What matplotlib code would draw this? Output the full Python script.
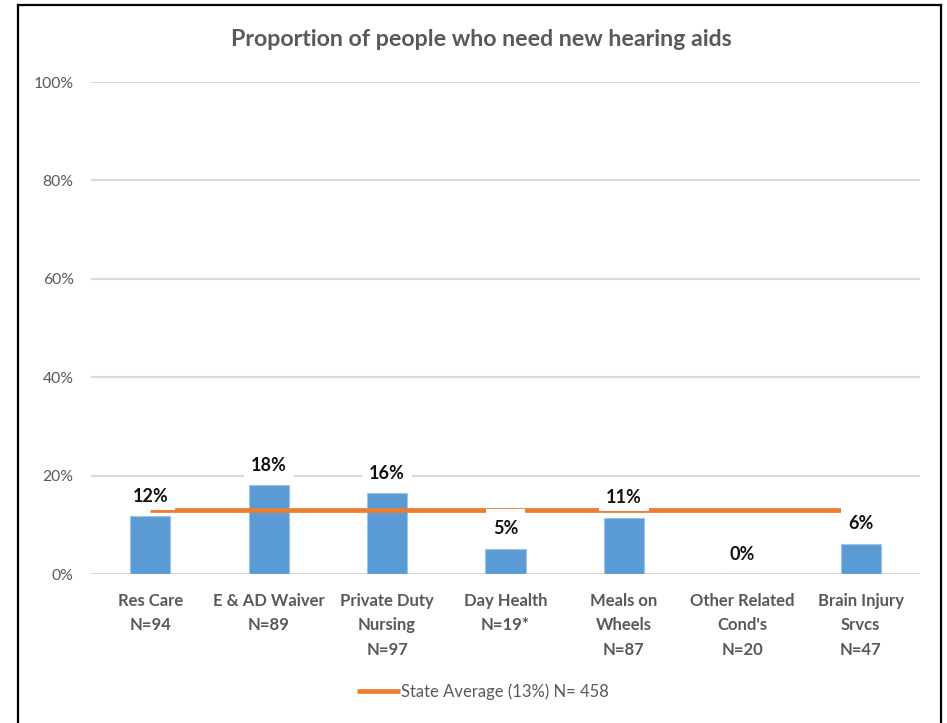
import matplotlib
matplotlib.use("Agg")
import matplotlib.pyplot as plt
from matplotlib.lines import Line2D
from matplotlib.patches import Rectangle
from matplotlib.transforms import IdentityTransform

plt.rcParams['font.family'] = ['Lato', 'DejaVu Sans']

title = "Proportion of people who need new hearing aids"
categories = ["Res Care\nN=94", "E & AD Waiver\nN=89", "Private Duty\nNursing\nN=97",
              "Day Health\nN=19*", "Meals on\nWheels\nN=87", "Other Related\nCond's\nN=20",
              "Brain Injury\nSrvcs\nN=47"]
values = [11.7, 18.0, 16.4, 5.1, 11.4, 0.0, 6.1]
state_avg = 13
state_label = "State Average (13%) N= 458"
yticks = [0, 20, 40, 60, 80, 100]

W, H, DPI = 947, 723, 100
BAR = "#5B9BD5"
ORANGE = "#ED7D31"
GRID = "#D9D9D9"
GREY = "#595959"

fig = plt.figure(figsize=(W / DPI, H / DPI), dpi=DPI)
ax = fig.add_axes([91 / W, 1 - 574 / H, (920 - 91) / W, (574 - 82) / H])

x = list(range(len(categories)))
ax.bar(x, values, width=0.34, color=BAR, edgecolor="#9DC3E6", linewidth=0.8, zorder=2)
ax.plot(x, [state_avg] * len(x), color=ORANGE, lw=3.4, zorder=3,
        solid_capstyle="butt", label=state_label)

ax.set_xlim(-0.5, len(x) - 0.5)
ax.set_ylim(0, 100)
ax.set_yticks(yticks)
ax.set_yticklabels([f"{t}%" for t in yticks], fontsize=11.3, color=GREY)
ax.set_xticks(x)
ax.set_xticklabels(categories, fontsize=12, color=GREY, fontweight="bold", linespacing=1.66)
ax.tick_params(axis="x", length=0, pad=13.5)
ax.tick_params(axis="y", length=0, pad=12.5)
ax.grid(axis="y", color=GRID, lw=1.5, zorder=0.5)
ax.set_axisbelow(True)
for s in ax.spines.values():
    s.set_visible(False)

# value labels with white boxes, placed above each bar top (pixel offsets)
fs = 13
cap = 0.72 * fs * DPI / 72
texts = []
for xi, v in zip(x, values):
    px, py = ax.transData.transform((xi, v))
    base = py + 21 - cap / 2
    t = fig.text(px / W, base / H, f"{round(v):.0f}%", ha="center", va="baseline",
                 fontsize=fs, fontweight="bold", color="#111111", zorder=6)
    texts.append((t, px, py))

fig.canvas.draw()
r = fig.canvas.get_renderer()
for t, px, py in texts:
    bb = t.get_window_extent(r)
    cy = py + 21
    rect = Rectangle((bb.x0 - 7, cy - 14.5), bb.width + 14, 33.0,
                     transform=IdentityTransform(), facecolor="white",
                     edgecolor="none", zorder=5)
    fig.add_artist(rect)

fig.text(481 / W, 1 - 39 / H, title, ha="center", va="center",
         fontsize=16.7, fontweight="bold", color=GREY)

fig.legend(loc="center", bbox_to_anchor=(483 / W, 1 - 692 / H), frameon=False,
           fontsize=12, labelcolor=GREY, handlelength=2.6, handletextpad=0.08)

# chart frame
lw = 1.6
fig.add_artist(Line2D([18 / W, 18 / W], [0, 1 - 5 / H], color="black", lw=lw))
fig.add_artist(Line2D([18 / W, 941 / W], [1 - 5 / H, 1 - 5 / H], color="black", lw=lw))
fig.add_artist(Line2D([941 / W, 941 / W], [0, 1 - 5 / H], color="black", lw=lw))

fig.savefig("out.png", dpi=DPI)
